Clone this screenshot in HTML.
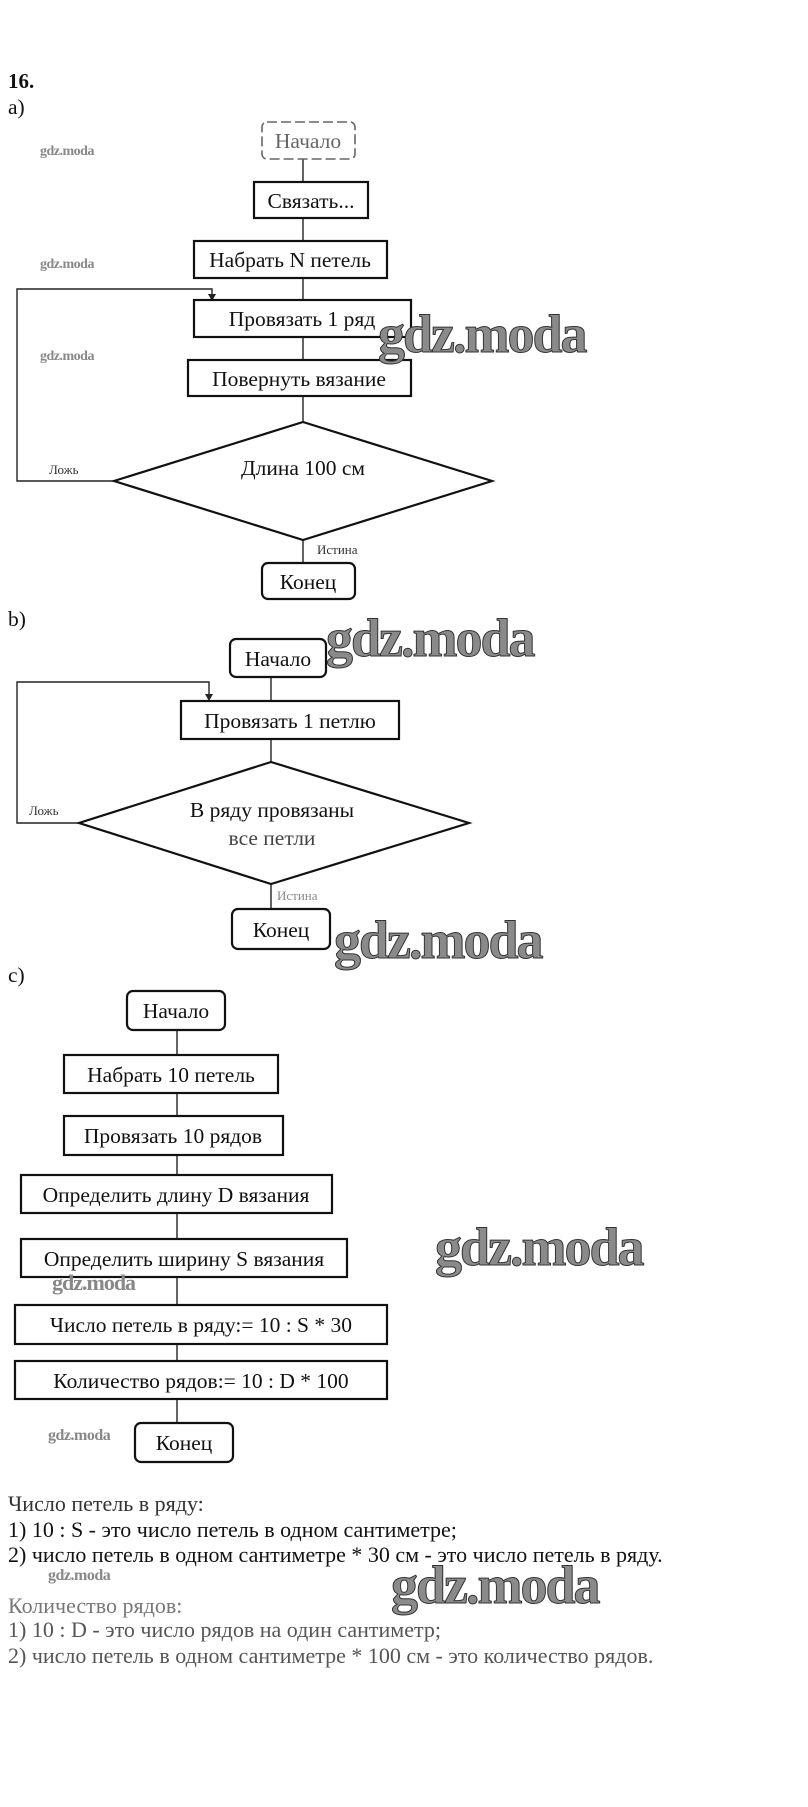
<!DOCTYPE html>
<html><head><meta charset="utf-8"><style>
html,body{margin:0;padding:0;background:#fff;}
svg{display:block;}
text{font-family:"Liberation Serif","DejaVu Serif",serif;}
.t{font-size:21.5px;fill:#111;}
.p{font-size:22px;fill:#111;}
.s{font-size:13px;fill:#333;}
.b{fill:#fff;stroke:#111;stroke-width:2.2;}
.l{stroke:#222;stroke-width:1.4;fill:none;}
.wm{font-size:54px;font-weight:bold;fill:#8a8a8a;stroke:#333;stroke-width:1;letter-spacing:-2px;}
.ws{font-size:14px;font-weight:bold;fill:#888;letter-spacing:-0.5px;}
</style></head><body>
<svg width="808" height="1807" viewBox="0 0 808 1807" xmlns="http://www.w3.org/2000/svg">
<text x="8" y="88" style="font-size:21px;font-weight:bold;fill:#111">16.</text>
<text x="8" y="114" class="t">a)</text>

<!-- a -->
<line x1="303" y1="159" x2="303" y2="563" class="l"/>
<rect x="262" y="122" width="93" height="37" rx="5" fill="#fff" stroke="#666" stroke-width="1.6" stroke-dasharray="10,4"/>
<text x="308" y="148" class="t" text-anchor="middle" style="fill:#666">Начало</text>
<rect x="254" y="182" width="114" height="36" class="b"/>
<text x="311" y="208" class="t" text-anchor="middle">Связать...</text>
<rect x="194" y="241" width="193" height="37" class="b"/>
<text x="290" y="267" class="t" text-anchor="middle">Набрать N петель</text>
<polyline points="114,481 17,481 17,289 212,289 212,298" class="l"/>
<polygon points="208,294 216,294 212,301" fill="#222"/>
<rect x="194" y="300" width="217" height="37" class="b"/>
<text x="302" y="326" class="t" text-anchor="middle">Провязать 1 ряд</text>
<rect x="188" y="360" width="223" height="36" class="b"/>
<text x="299" y="386" class="t" text-anchor="middle">Повернуть вязание</text>
<polygon points="303,422 492,481 303,540 114,481" class="b"/>
<text x="303" y="475" class="t" text-anchor="middle">Длина 100 см</text>
<text x="49" y="474" class="s">Ложь</text>
<text x="317" y="554" class="s">Истина</text>
<rect x="262" y="563" width="93" height="36" rx="6" class="b"/>
<text x="308" y="589" class="t" text-anchor="middle">Конец</text>
<text x="40" y="155" class="ws">gdz.moda</text>
<text x="40" y="268" class="ws">gdz.moda</text>
<text x="40" y="360" class="ws">gdz.moda</text>
<text x="378" y="352" class="wm">gdz.moda</text>

<!-- b -->
<text x="8" y="626" class="t">b)</text>
<line x1="271" y1="677" x2="271" y2="909" class="l"/>
<rect x="230" y="639" width="96" height="38" rx="6" class="b"/>
<text x="278" y="666" class="t" text-anchor="middle">Начало</text>
<polyline points="79,823 17,823 17,682 209,682 209,698" class="l"/>
<polygon points="205,694 213,694 209,701" fill="#222"/>
<rect x="181" y="701" width="218" height="38" class="b"/>
<text x="290" y="728" class="t" text-anchor="middle">Провязать 1 петлю</text>
<polygon points="271,762 469,823 271,884 79,823" class="b"/>
<text x="272" y="817" class="t" text-anchor="middle">В ряду провязаны</text>
<text x="272" y="845" class="t" text-anchor="middle" style="fill:#444">все петли</text>
<text x="29" y="815" class="s">Ложь</text>
<text x="277" y="900" class="s" style="fill:#888">Истина</text>
<rect x="232" y="909" width="98" height="40" rx="6" class="b"/>
<text x="281" y="937" class="t" text-anchor="middle">Конец</text>
<text x="326" y="656" class="wm">gdz.moda</text>
<text x="334" y="958" class="wm">gdz.moda</text>

<!-- c -->
<text x="8" y="982" class="t">c)</text>
<line x1="177" y1="1030" x2="177" y2="1423" class="l"/>
<rect x="127" y="991" width="98" height="39" rx="6" class="b"/>
<text x="176" y="1018" class="t" text-anchor="middle">Начало</text>
<rect x="64" y="1055" width="214" height="38" class="b"/>
<text x="171" y="1082" class="t" text-anchor="middle">Набрать 10 петель</text>
<rect x="64" y="1116" width="219" height="39" class="b"/>
<text x="173" y="1143" class="t" text-anchor="middle">Провязать 10 рядов</text>
<rect x="21" y="1175" width="311" height="38" class="b"/>
<text x="176" y="1202" class="t" text-anchor="middle">Определить длину D вязания</text>
<rect x="21" y="1239" width="326" height="38" class="b"/>
<text x="184" y="1266" class="t" text-anchor="middle">Определить ширину S вязания</text>
<rect x="15" y="1305" width="372" height="39" class="b"/>
<text x="201" y="1332" class="t" text-anchor="middle">Число петель в ряду:= 10 : S * 30</text>
<rect x="15" y="1361" width="372" height="38" class="b"/>
<text x="201" y="1388" class="t" text-anchor="middle">Количество рядов:= 10 : D * 100</text>
<rect x="135" y="1423" width="98" height="39" rx="6" class="b"/>
<text x="184" y="1450" class="t" text-anchor="middle">Конец</text>
<text x="52" y="1290" style="font-size:22px;font-weight:bold;fill:#888;letter-spacing:-1px">gdz.moda</text>
<text x="48" y="1440" class="ws" style="font-size:16px">gdz.moda</text>
<text x="435" y="1265" class="wm">gdz.moda</text>

<text x="8" y="1511" class="p" style="fill:#333">Число петель в ряду:</text>
<text x="8" y="1537" class="p">1) 10 : S - это число петель в одном сантиметре;</text>
<text x="8" y="1562" class="p">2) число петель в одном сантиметре * 30 см - это число петель в ряду.</text>
<text x="48" y="1580" class="ws" style="font-size:16px">gdz.moda</text>
<text x="391" y="1603" class="wm">gdz.moda</text>
<text x="8" y="1613" class="p" style="fill:#777">Количество рядов:</text>
<text x="8" y="1637" class="p" style="fill:#555">1) 10 : D - это число рядов на один сантиметр;</text>
<text x="8" y="1663" class="p" style="fill:#555">2) число петель в одном сантиметре * 100 см - это количество рядов.</text>
</svg>
</body></html>
